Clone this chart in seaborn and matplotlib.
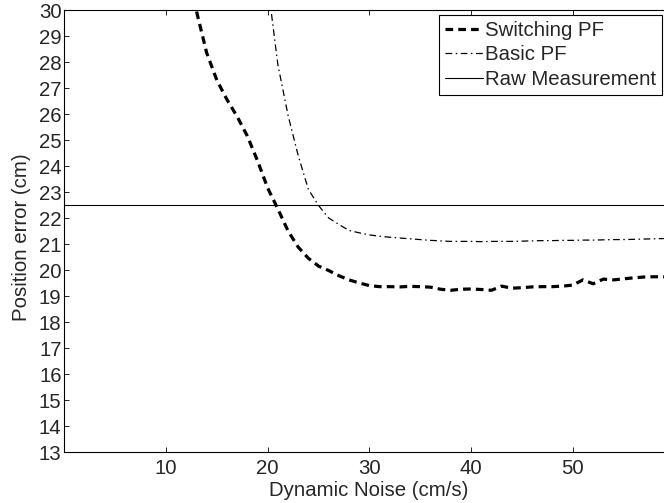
import matplotlib
matplotlib.use("Agg")
import matplotlib.pyplot as plt
import seaborn as sns
import pandas as pd

# ---- data ----
switch_x = [12, 13, 14, 15, 16, 17, 18, 19, 20, 21, 22, 23, 24, 25, 26, 27, 28, 29, 30,
            31, 32, 33, 34, 35, 36, 37, 38, 39, 40, 41, 42, 43, 44, 45, 46, 47, 48, 49, 50,
            51, 52, 53, 54, 55, 56, 57, 58, 59, 60]
switch_y = [32.0, 29.95, 28.35, 27.3, 26.55, 25.9, 25.15, 24.2, 23.15, 22.35, 21.5, 20.88,
            20.45, 20.15, 19.98, 19.78, 19.62, 19.5, 19.4, 19.36, 19.36, 19.35, 19.37, 19.36,
            19.34, 19.26, 19.22, 19.26, 19.27, 19.25, 19.22, 19.38, 19.3, 19.32, 19.35, 19.36,
            19.36, 19.38, 19.42, 19.62, 19.47, 19.65, 19.62, 19.66, 19.7, 19.73, 19.74, 19.74,
            19.75]

basic_x = [19, 20, 21, 22, 23, 24, 25, 26, 27, 28, 29, 30, 31, 32, 33, 34, 35, 36, 37, 38,
           39, 40, 41, 42, 43, 44, 45, 46, 47, 48, 49, 50, 51, 52, 53, 54, 55, 56, 57, 58,
           59, 60]
basic_y = [33.0, 31.0, 27.9, 25.95, 24.4, 23.1, 22.48, 22.0, 21.75, 21.52, 21.43, 21.35,
           21.3, 21.26, 21.23, 21.2, 21.17, 21.14, 21.12, 21.1, 21.1, 21.1, 21.09, 21.1, 21.1,
           21.1, 21.11, 21.12, 21.13, 21.13, 21.14, 21.14, 21.15, 21.15, 21.16, 21.17, 21.17,
           21.18, 21.19, 21.2, 21.21, 21.22]

raw_x = [0, 60]
raw_y = [22.5, 22.5]

x_ticks = [10, 20, 30, 40, 50]
y_ticks = list(range(13, 31))
labels = ["Switching PF", "Basic PF", "Raw Measurement"]

# ---- styling ----
sns.set_theme(style="white")
plt.rcParams["font.family"] = ["Liberation Sans", "DejaVu Sans"]
FS = 14.7

W, H = 664, 503
fig = plt.figure(figsize=(W / 100, H / 100), dpi=100)
left_px, right_px, top_px, bot_px = 64.3, 674.5, 10, 452
ax = fig.add_axes([left_px / W, 1 - bot_px / H, (right_px - left_px) / W, (bot_px - top_px) / H])

sw = pd.DataFrame({"x": switch_x, "y": switch_y})
bp = pd.DataFrame({"x": basic_x, "y": basic_y})
rw = pd.DataFrame({"x": raw_x, "y": raw_y})

sns.lineplot(data=sw, x="x", y="y", ax=ax, color="black", linewidth=2.3,
             linestyle=(0, (2.4, 1.6)), label=labels[0])
sns.lineplot(data=bp, x="x", y="y", ax=ax, color="black", linewidth=0.9,
             linestyle=(0, (5.4, 2.8, 1.2, 2.8)), label=labels[1])
sns.lineplot(data=rw, x="x", y="y", ax=ax, color="black", linewidth=0.8,
             linestyle="-", label=labels[2])

ax.set_xlim(0, 60)
ax.set_ylim(13, 30)
ax.set_xticks(x_ticks)
ax.set_yticks(y_ticks)
ax.set_xticklabels([str(t) for t in x_ticks], fontsize=FS)
ax.set_yticklabels([str(t) for t in y_ticks], fontsize=FS)
ax.tick_params(direction="in", length=3.6, width=0.6, color="black",
               top=True, right=True, bottom=True, left=True)
ax.tick_params(axis="x", pad=5)
ax.tick_params(axis="y", pad=2)
ax.set_xlabel("Dynamic Noise (cm/s)", fontsize=FS)
ax.set_ylabel("Position error (cm)", fontsize=FS)
ax.xaxis.set_label_coords((368.3 - left_px) / (right_px - left_px), -(490 - bot_px) / (bot_px - top_px))
ax.yaxis.set_label_coords(-(left_px - 22) / (right_px - left_px), (bot_px - 236.7) / (bot_px - top_px))
ax.xaxis.label.set_va("center")
ax.yaxis.label.set_va("center")
for s in ax.spines.values():
    s.set_color("black")
    s.set_linewidth(0.8)
    s.set_visible(True)

leg = ax.legend(loc="upper right", bbox_to_anchor=(662 / W, 1 - 15 / H),
                bbox_transform=fig.transFigure, borderaxespad=0, fontsize=FS,
                handlelength=1.85, handletextpad=0.08, labelspacing=0.26,
                borderpad=0.3, fancybox=False, framealpha=1, edgecolor="black")
leg.get_frame().set_linewidth(0.8)

fig.savefig("out.png", dpi=100)
